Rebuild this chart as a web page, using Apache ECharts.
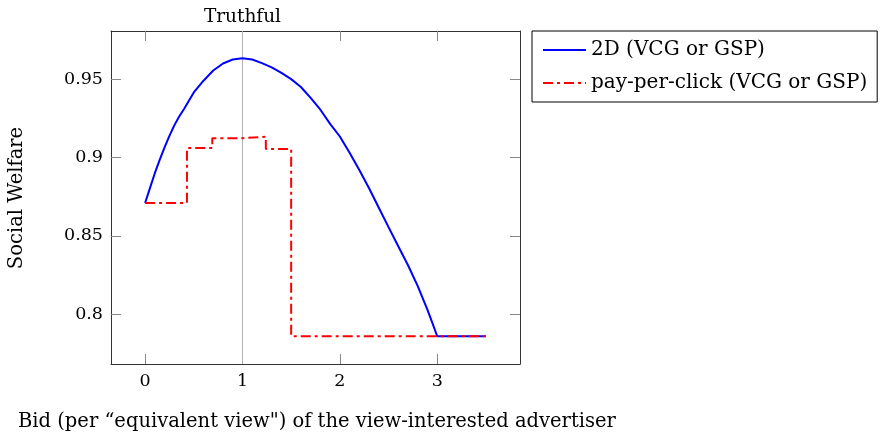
<!DOCTYPE html>
<html>
<head>
<meta charset="utf-8">
<script src="https://cdn.jsdelivr.net/npm/echarts@6/dist/echarts.min.js"></script>
<style>
html,body{margin:0;padding:0;background:#fff;}
#chart{width:880px;height:433px;}
</style>
</head>
<body>
<div id="chart"></div>
<script>
// Data
const xTicks = [0, 1, 2, 3];
const yTicks = [0.8, 0.85, 0.9, 0.95];
const seriesNames = ['2D (VCG or GSP)', 'pay-per-click (VCG or GSP)'];
const bid2D = [0, 0.05, 0.1, 0.15, 0.2, 0.25, 0.3, 0.35, 0.4, 0.5, 0.6, 0.7, 0.8, 0.9, 1.0, 1.1, 1.2, 1.3, 1.4, 1.5, 1.6, 1.7, 1.8, 1.9, 2.0, 2.1, 2.2, 2.3, 2.4, 2.5, 2.6, 2.7, 2.8, 2.9, 2.95, 3.0, 3.5];
const welfare2D = [0.871, 0.8805, 0.890, 0.8985, 0.9065, 0.9138, 0.9205, 0.9262, 0.931, 0.9415, 0.949, 0.9555, 0.960, 0.9625, 0.9633, 0.9625, 0.9602, 0.9575, 0.954, 0.950, 0.945, 0.938, 0.9305, 0.9215, 0.9134, 0.903, 0.892, 0.8804, 0.868, 0.8556, 0.8434, 0.8313, 0.818, 0.8028, 0.7945, 0.786, 0.786];
const bidPPC = [0, 0.43, 0.69, 1.0, 1.24, 1.5, 3.5];
const welfarePPC = [0.871, 0.906, 0.9123, 0.9133, 0.9055, 0.786, 0.786];
const truthfulBid = 1;
const truthfulLabel = 'Truthful';
const xLabel = 'Bid (per \u201cequivalent view") of the view-interested advertiser';
const yLabel = 'Social Welfare';

const FONT = 'DejaVu Serif';
const FS = 17.5;
const FT = 19.5;
const FL = 20;

const zip = (xs, ys) => xs.map((x, i) => [x, ys[i]]);

const chart = echarts.init(document.getElementById('chart'), null, {renderer: 'canvas'});

const commonX = {
  type: 'value', min: -0.35, max: 3.85,
  splitLine: {show: false},
  axisLine: {show: true, onZero: false, lineStyle: {color: '#333', width: 1}},
  axisTick: {show: true, inside: true, length: 10, customValues: xTicks, lineStyle: {color: '#888', width: 1}}
};
const commonY = {
  type: 'value', min: 0.7683, max: 0.9807,
  splitLine: {show: false},
  axisLine: {show: true, onZero: false, lineStyle: {color: '#333', width: 1}},
  axisTick: {show: true, inside: true, length: 10, customValues: yTicks, lineStyle: {color: '#888', width: 1}}
};

chart.setOption({
  animation: false,
  backgroundColor: '#fff',
  grid: {left: 111, top: 31, right: 360, bottom: 69, containLabel: false},
  xAxis: [
    Object.assign({}, commonX, {position: 'bottom',
      axisLabel: {show: true, customValues: xTicks, margin: 8, color: '#000', fontFamily: FONT, fontSize: FS}}),
    Object.assign({}, commonX, {position: 'top', axisLabel: {show: false}})
  ],
  yAxis: [
    Object.assign({}, commonY, {position: 'left',
      axisLabel: {show: true, customValues: yTicks, margin: 8, color: '#000', fontFamily: FONT, fontSize: FS,
        formatter: v => String(+v.toFixed(2))}}),
    Object.assign({}, commonY, {position: 'right', axisLabel: {show: false}})
  ],
  legend: {
    orient: 'vertical', left: 532, top: 31,
    padding: [9, 10, 9, 10], itemGap: 13,
    itemWidth: 43, itemHeight: 20,
    borderColor: '#000', borderWidth: 1,
    itemStyle: {opacity: 0},
    textStyle: {color: '#000', fontFamily: FONT, fontSize: FL},
    data: seriesNames
  },
  series: [
    {
      name: seriesNames[0], type: 'line', xAxisIndex: 0, yAxisIndex: 0,
      data: zip(bid2D, welfare2D), symbol: 'none', z: 3,
      lineStyle: {color: '#0000ff', width: 2}, itemStyle: {color: '#0000ff'},
      markLine: {
        silent: true, symbol: 'none', z: 1, animation: false,
        lineStyle: {color: '#b3b3b3', width: 1, type: 'solid'},
        label: {show: true, position: 'end', formatter: truthfulLabel, distance: 4,
          color: '#000', fontFamily: FONT, fontSize: 18.5},
        emphasis: {disabled: true},
        data: [{xAxis: truthfulBid}]
      }
    },
    {
      name: seriesNames[1], type: 'line', xAxisIndex: 0, yAxisIndex: 0,
      data: zip(bidPPC, welfarePPC), step: 'end', symbol: 'none', z: 4,
      lineStyle: {color: '#ff0000', width: 2, type: [10, 4, 3, 4]}, itemStyle: {color: '#ff0000'}
    }
  ],
  graphic: [
    {type: 'text', left: 18, top: 412, style: {text: xLabel, fill: '#000', font: FT + 'px "' + FONT + '"'}},
    {type: 'text', x: 17, y: 198, rotation: Math.PI / 2,
      style: {text: yLabel, fill: '#000', font: FT + 'px "' + FONT + '"', align: 'center', verticalAlign: 'middle'}}
  ]
});
</script>
</body>
</html>
